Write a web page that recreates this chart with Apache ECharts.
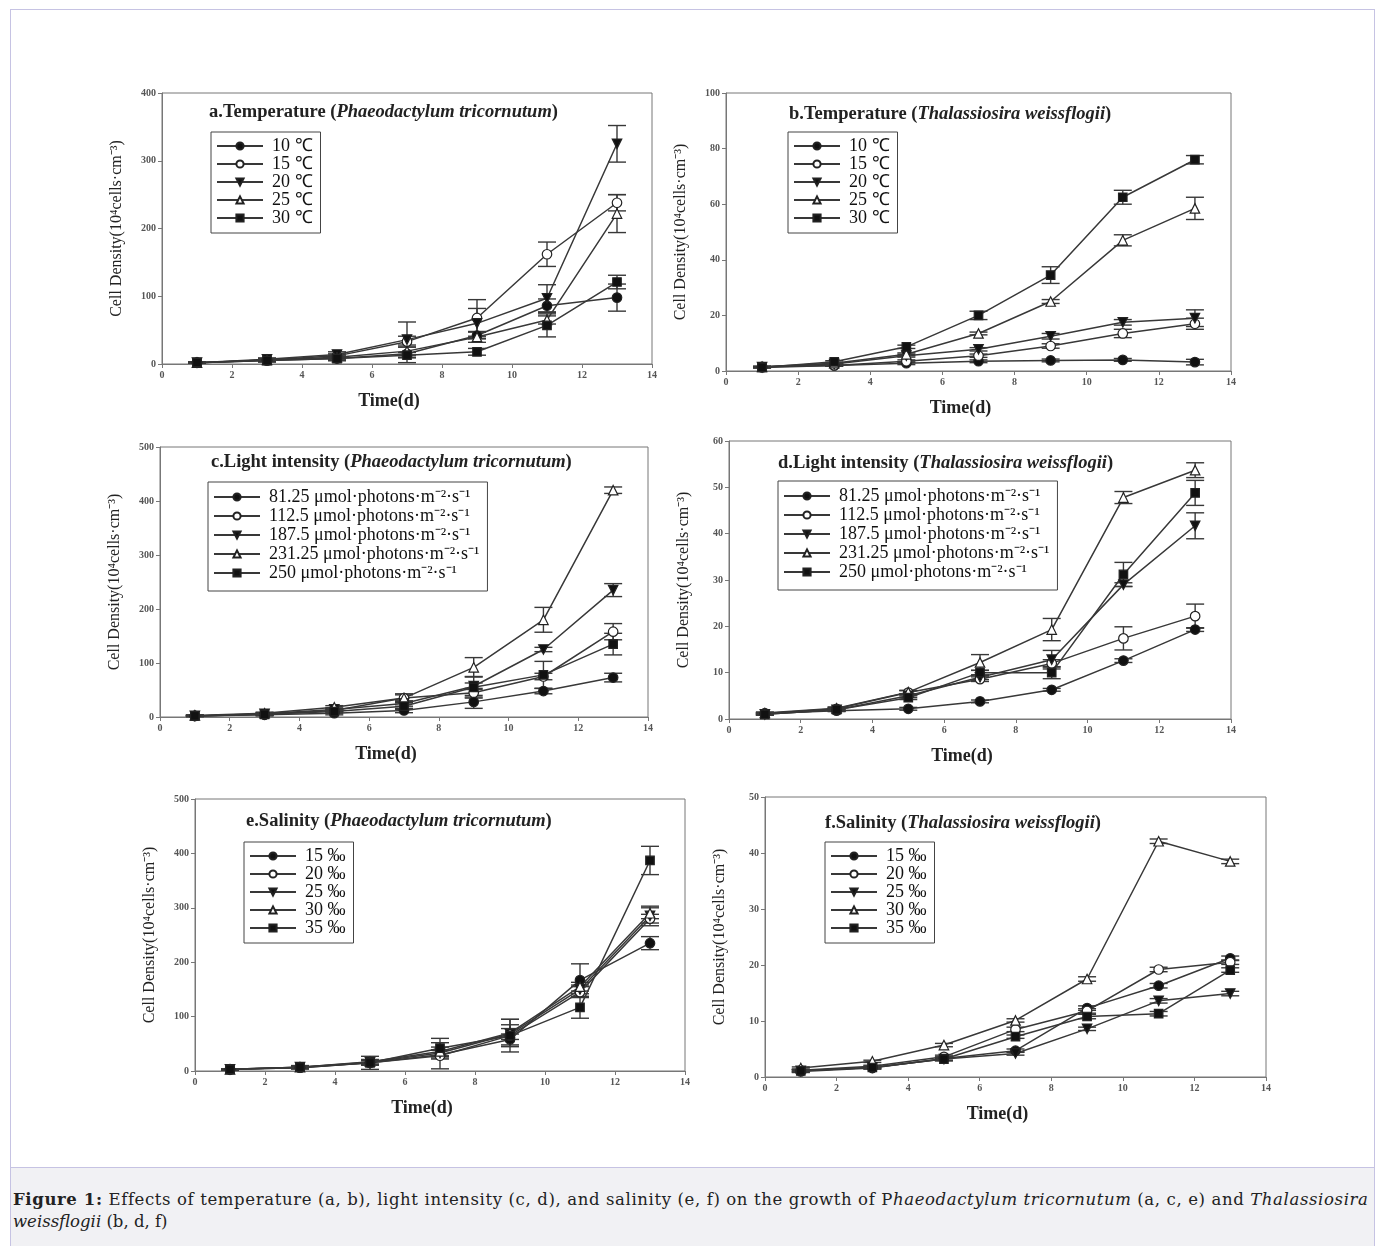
<!DOCTYPE html>
<html>
<head>
<meta charset="utf-8">
<script src="https://cdn.jsdelivr.net/npm/echarts@6/dist/echarts.min.js"></script>
<style>
  html, body { margin: 0; padding: 0; background: #fff; }
  #page { position: relative; width: 1380px; height: 1246px; overflow: hidden; }
  #frame { position: absolute; left: 10px; top: 9px; width: 1365px; height: 1300px;
           border: 1px solid #c6c3e3; box-sizing: border-box; }
  #chart { position: absolute; left: 0; top: 0; width: 1380px; height: 1165px; }
  #caption { position: absolute; left: 11px; top: 1167px; width: 1363px; height: 90px;
             background: #f1f1f4; border-top: 1px solid #c6c3e3; box-sizing: border-box;
             padding: 21px 0 0 2px; font-family: "DejaVu Serif", serif; font-size: 16.5px;
             line-height: 22px; color: #222; white-space: nowrap; }
  #caption span { display: inline-block; }
</style>
</head>
<body>
<div id="page">
  <div id="frame"></div>
  <div id="chart"></div>
  <div id="caption"><span id="capLine1"><b>Figure 1:</b> Effects of temperature (a, b), light intensity (c, d), and salinity (e, f) on the growth of P<i>haeodactylum tricornutum</i> (a, c, e) and <i>Thalassiosira</i></span><br><span><i>weissflogii</i> (b, d, f)</span></div>
</div>
<script>
// Sampling days
const days = [1, 3, 5, 7, 9, 11, 13];

// Series names per factor
const tempNames = ['10 ℃', '15 ℃', '20 ℃', '25 ℃', '30 ℃'];
const lightNames = ['81.25 μmol·photons·m⁻²·s⁻¹', '112.5 μmol·photons·m⁻²·s⁻¹',
  '187.5 μmol·photons·m⁻²·s⁻¹', '231.25 μmol·photons·m⁻²·s⁻¹', '250 μmol·photons·m⁻²·s⁻¹'];
const salinityNames = ['15 ‰', '20 ‰', '25 ‰', '30 ‰', '35 ‰'];

// Y-axis maxima and tick steps
const yMax = [400, 100, 500, 60, 500, 50];
const yStep = [100, 20, 100, 10, 100, 10];

// a. Temperature, Phaeodactylum tricornutum (10^4 cells/cm3)
const a10 = [2, 5, 8, 15, 42, 86, 98];
const a15 = [2, 6, 12, 33, 68, 162, 238];
const a20 = [2, 7, 14, 36, 60, 97, 325];
const a25 = [2, 6, 10, 19, 40, 65, 222];
const a30 = [2, 5, 8, 13, 18, 57, 121];
const aErr = [[1, 2, 3, 13, 5, 10, 20], [1, 2, 3, 8, 27, 18, 12], [1, 2, 4, 26, 22, 20, 27],
              [1, 2, 3, 6, 8, 6, 28], [1, 2, 3, 4, 5, 17, 10]];

// b. Temperature, Thalassiosira weissflogii
const b10 = [1.5, 2.0, 2.8, 3.5, 3.8, 4.0, 3.2];
const b15 = [1.3, 2.0, 3.5, 5.5, 9.0, 13.5, 17.0];
const b20 = [1.4, 2.5, 5.5, 7.8, 12.5, 17.5, 19.0];
const b25 = [1.5, 2.8, 6.0, 13.5, 25.0, 47.0, 58.5];
const b30 = [1.3, 3.3, 8.7, 20.0, 34.5, 62.5, 76.0];
const bErr = [[0.2, 0.3, 0.5, 0.5, 0.5, 0.5, 1.0], [0.2, 0.3, 0.5, 0.6, 0.8, 1.5, 2.0],
              [0.2, 0.3, 0.5, 0.6, 1.0, 1.0, 3.0], [0.2, 0.3, 0.5, 0.5, 0.7, 2.0, 4.0],
              [0.2, 0.4, 0.6, 1.5, 3.0, 2.5, 1.5]];

// c. Light intensity, Phaeodactylum tricornutum
const c81 = [2, 4, 7, 12, 28, 48, 73];
const c112 = [2, 5, 12, 35, 45, 75, 158];
const c187 = [2, 6, 14, 25, 57, 125, 235];
const c231 = [3, 7, 18, 35, 92, 180, 420];
const c250 = [2, 5, 10, 20, 55, 78, 135];
const cErr = [[1, 2, 3, 4, 12, 5, 8], [1, 2, 3, 6, 8, 6, 15], [1, 2, 3, 5, 6, 4, 12],
              [1, 2, 3, 8, 18, 23, 6], [1, 2, 3, 6, 20, 25, 20]];

// d. Light intensity, Thalassiosira weissflogii
const d81 = [1.2, 1.8, 2.2, 3.8, 6.3, 12.6, 19.3];
const d112 = [1.2, 2.2, 5.7, 8.6, 12.0, 17.4, 22.2];
const d187 = [1.0, 2.0, 5.0, 9.0, 12.8, 29.0, 41.7];
const d231 = [1.3, 2.3, 5.8, 12.2, 19.3, 47.8, 53.7];
const d250 = [1.0, 2.0, 4.6, 10.0, 10.0, 31.2, 48.8];
const dErr = [[0.2, 0.2, 0.3, 0.3, 0.3, 0.4, 0.4], [0.2, 0.3, 0.4, 0.5, 0.8, 2.5, 2.6],
              [0.2, 0.3, 0.4, 0.5, 2.0, 0.4, 2.8], [0.2, 0.3, 0.4, 1.7, 2.4, 1.3, 1.6],
              [0.2, 0.3, 0.4, 0.5, 1.3, 2.6, 2.7]];

// e. Salinity, Phaeodactylum tricornutum
const e15 = [3, 6, 15, 30, 58, 167, 235];
const e20 = [3, 6, 15, 28, 65, 145, 280];
const e25 = [3, 7, 16, 33, 68, 150, 285];
const e30 = [3, 7, 17, 36, 70, 155, 290];
const e35 = [3, 7, 15, 42, 65, 117, 387];
const eErr = [[1, 2, 4, 8, 10, 30, 12], [1, 2, 4, 24, 20, 10, 8], [1, 3, 5, 6, 10, 8, 18],
              [1, 2, 4, 8, 25, 8, 10], [1, 2, 12, 18, 30, 20, 26]];

// f. Salinity, Thalassiosira weissflogii
const f15 = [1.0, 1.6, 3.3, 4.7, 12.3, 16.3, 21.2];
const f20 = [1.2, 1.9, 3.6, 8.5, 11.8, 19.2, 20.5];
const f25 = [1.1, 1.7, 3.2, 4.2, 8.6, 13.6, 14.9];
const f30 = [1.6, 2.8, 5.7, 10.1, 17.5, 42.1, 38.5];
const f35 = [1.1, 1.7, 3.2, 7.2, 10.8, 11.3, 19.1];
const fErr = [[0.2, 0.2, 0.3, 0.3, 0.4, 0.4, 0.4], [0.2, 0.2, 0.3, 0.4, 0.4, 0.4, 0.4],
              [0.2, 0.2, 0.3, 0.3, 0.3, 0.4, 0.4], [0.2, 0.2, 0.3, 0.3, 0.4, 0.4, 0.4],
              [0.2, 0.2, 0.3, 0.3, 0.4, 0.4, 0.4]];

const panels = [
  { names: tempNames, means: [a10, a15, a20, a25, a30], errs: aErr,
    head: 'a.Temperature (', species: 'Phaeodactylum tricornutum' },
  { names: tempNames, means: [b10, b15, b20, b25, b30], errs: bErr,
    head: 'b.Temperature (', species: 'Thalassiosira weissflogii' },
  { names: lightNames, means: [c81, c112, c187, c231, c250], errs: cErr,
    head: 'c.Light intensity (', species: 'Phaeodactylum tricornutum' },
  { names: lightNames, means: [d81, d112, d187, d231, d250], errs: dErr,
    head: 'd.Light intensity (', species: 'Thalassiosira weissflogii' },
  { names: salinityNames, means: [e15, e20, e25, e30, e35], errs: eErr,
    head: 'e.Salinity (', species: 'Phaeodactylum tricornutum' },
  { names: salinityNames, means: [f15, f20, f25, f30, f35], errs: fErr,
    head: 'f.Salinity (', species: 'Thalassiosira weissflogii' }
];

// Layout of the six plot frames
const gridBoxes = [
  { left: 162, top: 93, width: 490, height: 271 },
  { left: 726, top: 93, width: 505, height: 278 },
  { left: 160, top: 447, width: 488, height: 270 },
  { left: 729, top: 441, width: 502, height: 278 },
  { left: 195, top: 799, width: 490, height: 272 },
  { left: 765, top: 797, width: 501, height: 280 }
];
const legendPos = [[211, 132], [788, 132], [208, 482], [778, 481], [244, 842], [825, 842]];
const titlePos = [[209, 103], [789, 105], [211, 453], [778, 454], [246, 812], [825, 814]];

// Marker look for the five treatments (same order in every panel)
const markers = [
  { symbol: 'circle', size: 9.5, fill: '#111', rotate: 0 },
  { symbol: 'circle', size: 9.5, fill: '#fff', rotate: 0 },
  { symbol: 'triangle', size: 9.5, fill: '#111', rotate: 180 },
  { symbol: 'triangle', size: 9.5, fill: '#fff', rotate: 0 },
  { symbol: 'rect', size: 8.5, fill: '#111', rotate: 0 }
];

const SERIF = '"Liberation Serif", "Times New Roman", serif';
const LINE = '#383838';

const grid = [], xAxis = [], yAxis = [], series = [], legend = [], title = [];

panels.forEach((p, k) => {
  const wide = k === 2 || k === 3;
  grid.push(Object.assign({ show: true, borderColor: '#777', borderWidth: 1,
                            backgroundColor: 'transparent' }, gridBoxes[k]));
  xAxis.push({
    type: 'value', gridIndex: k, min: 0, max: 14, interval: 2,
    name: 'Time(d)', nameLocation: 'middle', nameGap: 28,
    nameTextStyle: { fontFamily: SERIF, fontSize: 18, fontWeight: 'bold', color: '#222',
                     padding: [0, 36, 0, 0] },
    axisLine: { lineStyle: { color: '#777', width: 1 } },
    axisTick: { length: 4, lineStyle: { color: '#777' } },
    axisLabel: { fontFamily: SERIF, fontSize: 10, fontWeight: 'bold', color: '#555', margin: 6 },
    splitLine: { show: false }
  });
  yAxis.push({
    type: 'value', gridIndex: k, min: 0, max: yMax[k], interval: yStep[k],
    name: 'Cell Density(10⁴cells·cm⁻³)', nameLocation: 'middle', nameGap: 37,
    nameTextStyle: { fontFamily: SERIF, fontSize: 16, color: '#222' },
    axisLine: { lineStyle: { color: '#777', width: 1 } },
    axisTick: { length: 4, lineStyle: { color: '#777' } },
    axisLabel: { fontFamily: SERIF, fontSize: 10, fontWeight: 'bold', color: '#555', margin: 6 },
    splitLine: { show: false }
  });
  title.push({
    text: '{b|' + p.head + '}{i|' + p.species + '}{b|)}',
    left: titlePos[k][0], top: titlePos[k][1], padding: 0,
    textStyle: {
      rich: {
        b: { fontFamily: SERIF, fontSize: 18.5, fontWeight: 'bold', color: '#222' },
        i: { fontFamily: SERIF, fontSize: 18.5, fontWeight: 'bold', fontStyle: 'italic', color: '#222' }
      }
    }
  });
  legend.push({
    data: p.names, orient: 'vertical', left: legendPos[k][0], top: legendPos[k][1],
    selectedMode: false, borderColor: '#444', borderWidth: 1,
    padding: wide ? [6, 8, 9, 5] : [5, 8, 6, 5],
    itemWidth: 46, itemHeight: 9, itemGap: wide ? 1 : 0,
    textStyle: { fontFamily: SERIF, fontSize: 18, color: '#111', lineHeight: 16, padding: [0, 0, 0, 4] }
  });
  p.means.forEach((vals, s) => {
    const m = markers[s];
    series.push({
      type: 'line', name: p.names[s], xAxisIndex: k, yAxisIndex: k,
      data: days.map((d, i) => [d, vals[i]]),
      symbol: m.symbol, symbolSize: m.size, symbolRotate: m.rotate, showAllSymbol: true,
      lineStyle: { color: LINE, width: 1.5 },
      itemStyle: { color: m.fill, borderColor: '#222', borderWidth: 1.2 },
      z: 4, animation: false, silent: true
    });
    const errs = p.errs[s];
    series.push({
      type: 'custom', name: p.names[s] + ' ±SD', xAxisIndex: k, yAxisIndex: k,
      data: days.map((d, i) => [d, vals[i], errs[i]]),
      encode: { x: 0, y: 1 },
      renderItem: (params, api) => {
        const x = api.value(0), y = api.value(1), e = api.value(2);
        const hi = api.coord([x, y + e]);
        const lo = api.coord([x, y - e]);
        const hw = 9;
        const st = { stroke: LINE, lineWidth: 1.4 };
        return {
          type: 'group',
          children: [
            { type: 'line', shape: { x1: hi[0], y1: hi[1], x2: lo[0], y2: lo[1] }, style: st },
            { type: 'line', shape: { x1: hi[0] - hw, y1: hi[1], x2: hi[0] + hw, y2: hi[1] }, style: st },
            { type: 'line', shape: { x1: lo[0] - hw, y1: lo[1], x2: lo[0] + hw, y2: lo[1] }, style: st }
          ]
        };
      },
      z: 3, animation: false, silent: true
    });
  });
});

const chart = echarts.init(document.getElementById('chart'), null, { renderer: 'canvas' });
chart.setOption({ animation: false, backgroundColor: 'transparent', grid, xAxis, yAxis, series, legend, title });

// Spread the first caption line across the caption box width
const line1 = document.getElementById('capLine1');
const text1 = line1.textContent;
const target = 1355;
const w = line1.getBoundingClientRect().width;
if (w < target) {
  line1.style.letterSpacing = ((target - w) / text1.length).toFixed(3) + 'px';
}
</script>
</body>
</html>
